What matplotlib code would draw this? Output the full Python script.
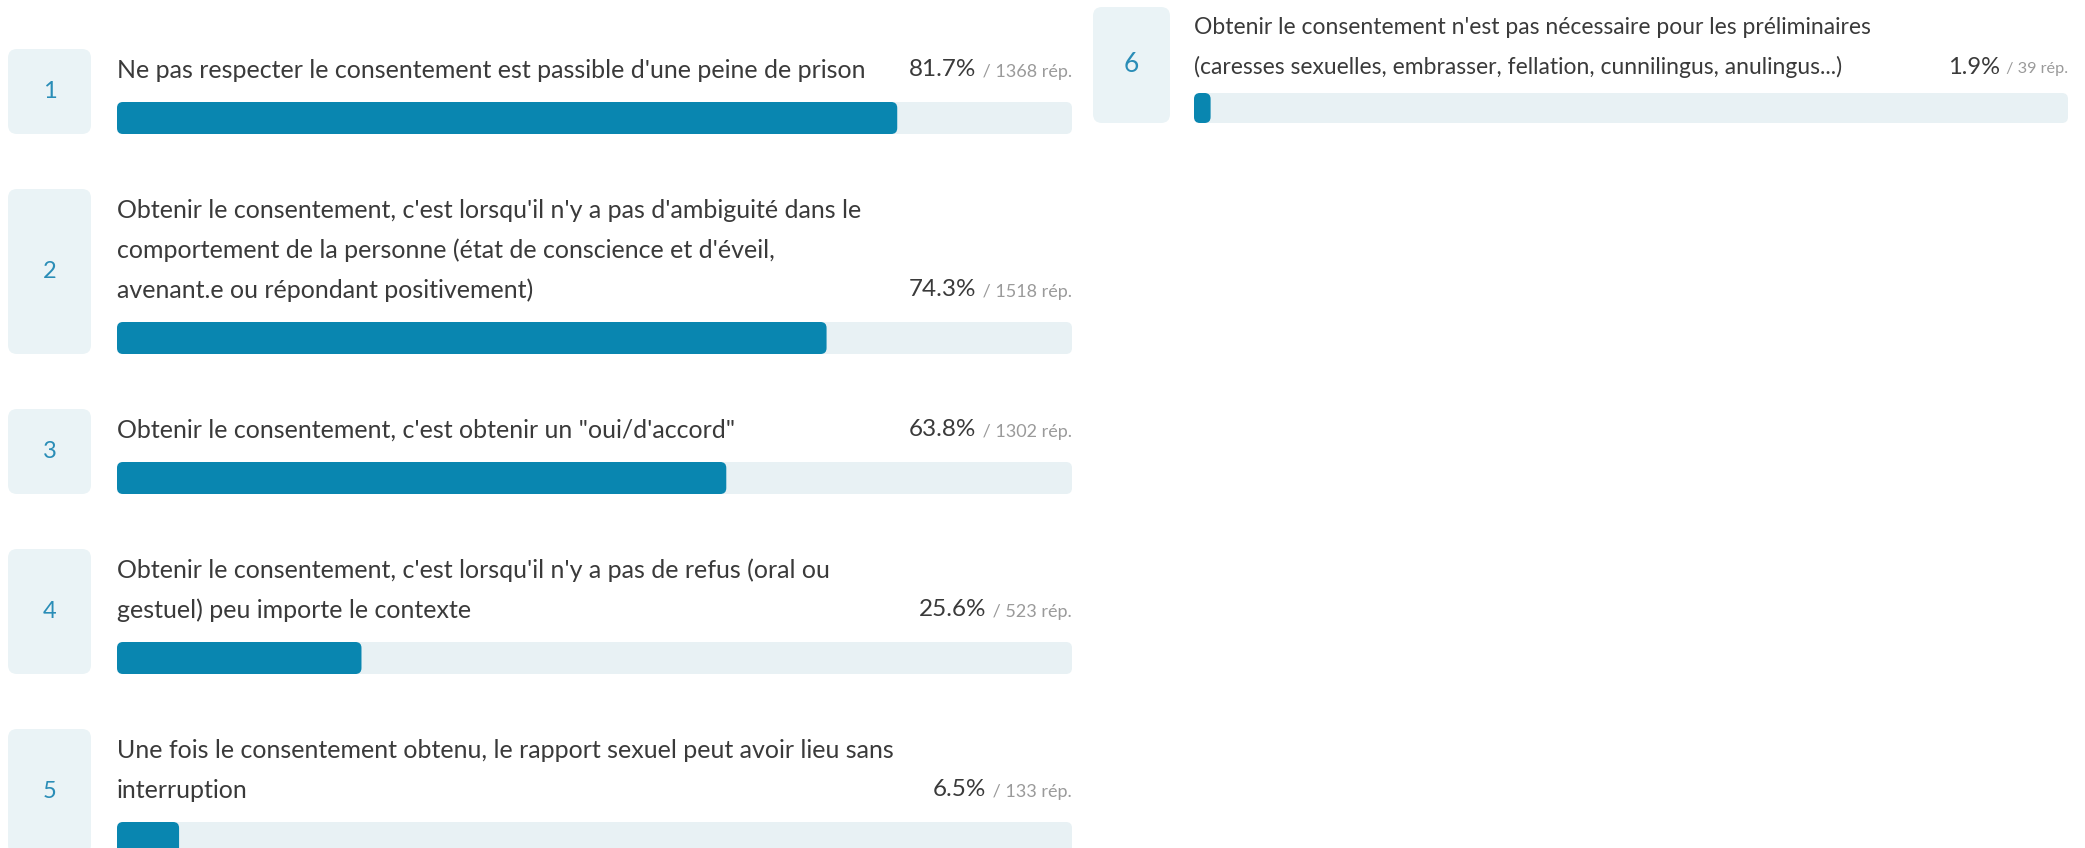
import matplotlib
matplotlib.use("Agg")
import matplotlib.pyplot as plt
from matplotlib.patches import FancyBboxPatch

plt.rcParams['font.family'] = ['Lato', 'DejaVu Sans']

# donnees
numeros = [1, 2, 3, 4, 5, 6]
libelles = [
    ["Ne pas respecter le consentement est passible d'une peine de prison"],
    ["Obtenir le consentement, c'est lorsqu'il n'y a pas d'ambiguité dans le",
     "comportement de la personne (état de conscience et d'éveil,",
     "avenant.e ou répondant positivement)"],
    ["Obtenir le consentement, c'est obtenir un \"oui/d'accord\""],
    ["Obtenir le consentement, c'est lorsqu'il n'y a pas de refus (oral ou",
     "gestuel) peu importe le contexte"],
    ["Une fois le consentement obtenu, le rapport sexuel peut avoir lieu sans",
     "interruption"],
    ["Obtenir le consentement n'est pas nécessaire pour les préliminaires",
     "(caresses sexuelles, embrasser, fellation, cunnilingus, anulingus...)"],
]
pourcentages = [81.7, 74.3, 63.8, 25.6, 6.5, 1.9]
reponses = [1368, 1518, 1302, 523, 133, 39]

# mise en page (pixels), une entree par colonne
W, H = 2085, 848
colonnes = [0, 0, 0, 0, 0, 1]
col_x = [8, 1093]          # bord gauche de la boite numero
col_fin = [1072, 2068]     # fin de la barre
col_haut = [49, 7]
box_w = [83, 77]
bar_off = [109, 101]
bar_h = [32, 30]
base_h = [85, 77]
interligne = [40, 39]
t_lib = [18, 16.5]
t_pct = [17.5, 17]
t_rep = [13, 11.7]
t_num = [17, 19]
gap = 55

BLEU = "#0986b0"
PISTE = "#e8f1f4"
BOITE = "#eaf3f6"
NUM = "#2a8db7"
TEXTE = "#3a3a3a"
GRIS = "#9a9a9a"

fig = plt.figure(figsize=(W / 100, H / 100), dpi=100)
ax = fig.add_axes([0, 0, 1, 1])
ax.set_xlim(0, W)
ax.set_ylim(H, 0)
ax.axis("off")
renderer = fig.canvas.get_renderer()

y_col = list(col_haut)
for num, lignes, pct, rep, c in zip(numeros, libelles, pourcentages, reponses, colonnes):
    n = len(lignes)
    haut = y_col[c]
    box_h = base_h[c] + interligne[c] * (n - 1)
    x0 = col_x[c]
    bx = x0 + bar_off[c]
    bw = col_fin[c] - bx

    ax.add_patch(FancyBboxPatch((x0, haut), box_w[c], box_h,
                                boxstyle="round,pad=0,rounding_size=9",
                                fc=BOITE, ec="none"))
    ax.text(x0 + box_w[c] / 2, haut + box_h / 2, str(num), ha="center", va="center",
            fontsize=t_num[c], color=NUM)

    for i, ligne in enumerate(lignes):
        ax.text(bx, haut + 21 + i * interligne[c], ligne, ha="left", va="center",
                fontsize=t_lib[c], color=TEXTE)

    y_der = haut + 21 + (n - 1) * interligne[c]
    t = ax.text(col_fin[c], y_der + 2, f" / {rep} rép.", ha="right", va="center",
                fontsize=t_rep[c], color=GRIS)
    bb = t.get_window_extent(renderer)
    ax.text(col_fin[c] - bb.width - 2, y_der, f"{pct}%", ha="right", va="center",
            fontsize=t_pct[c], color=TEXTE)

    by = haut + box_h - bar_h[c]
    ax.add_patch(FancyBboxPatch((bx, by), bw, bar_h[c],
                                boxstyle="round,pad=0,rounding_size=6",
                                fc=PISTE, ec="none"))
    ax.add_patch(FancyBboxPatch((bx, by), max(bw * pct / 100, 16), bar_h[c],
                                boxstyle="round,pad=0,rounding_size=6",
                                fc=BLEU, ec="none"))

    y_col[c] = haut + box_h + gap

fig.savefig("out.png", dpi=100, facecolor="white")
